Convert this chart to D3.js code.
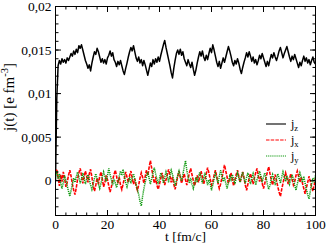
<!DOCTYPE html>
<html><head><meta charset="utf-8">
<script src="https://cdn.jsdelivr.net/npm/d3@7"></script>
<style>html,body{margin:0;padding:0;background:#fff}svg{display:block}</style>
</head><body>
<svg id="c" width="326" height="243"></svg>
<script>
// time axis: t = 0, 0.5, ..., 100 fm/c
const tStep = 0.5;
// currents in units of 1e-3 e fm^-3
const jzMilli = [0,9.5,13.2,13.8,13.4,14.0,13.6,13.9,13.5,14.1,13.8,
14.2,14.6,14.3,14.9,14.5,15.1,14.7,15.5,15.2,15.6,
15.0,14.4,13.8,13.4,12.9,13.3,12.6,13.5,14.2,14.8,
14.5,15.2,14.8,14.2,13.6,14.0,13.5,13.9,13.4,14.1,
14.4,14.9,14.3,14.7,13.9,13.6,13.1,13.7,13.3,13.8,
13.2,12.6,12.2,12.9,13.5,14.2,14.8,15.3,14.9,15.5,
14.8,14.1,13.7,14.2,13.5,13.9,13.2,13.8,13.3,12.7,
12.1,12.8,13.5,13.1,13.9,13.4,14.0,13.6,14.2,13.7,
14.4,15.0,15.6,16.1,15.3,14.6,13.9,13.2,12.4,11.8,
12.9,13.8,14.6,15.0,14.5,15.1,14.4,14.8,14.0,13.6,
13.2,13.9,13.4,13.0,13.6,12.8,12.1,12.7,13.5,14.2,
14.8,14.3,14.9,14.2,13.8,14.4,13.9,14.6,15.2,14.7,
15.6,15.0,14.3,13.6,13.1,13.7,12.9,13.5,14.1,13.6,
14.2,14.8,15.4,14.9,14.3,13.6,13.2,13.8,13.4,14.0,
13.5,12.8,12.3,13.0,13.6,14.1,14.7,14.2,14.8,14.3,
13.7,14.2,13.5,13.9,13.3,13.8,14.4,14.0,14.6,14.1,
13.6,13.1,13.7,13.2,13.9,14.5,14.1,14.7,14.2,13.8,
14.3,14.9,15.3,14.7,14.1,14.6,15.0,15.4,14.8,14.2,
13.7,14.3,13.9,14.5,14.0,13.5,13.0,13.6,13.2,13.8,
14.3,13.7,14.1,13.5,13.9,13.3,13.8,14.2,13.6,13.4];
const jxMilli = [0.9,1.3,0.4,-0.6,0.7,-0.1,1.0,0.3,-0.7,-0.2,0.6,
1.2,0.5,-0.4,-1.1,-1.6,-0.8,0.2,0.9,1.4,0.6,
-0.3,0.4,1.1,0.5,-0.2,0.8,1.3,0.4,-0.6,-1.2,
-0.5,0.3,-0.4,0.5,1.0,0.2,-0.7,-0.2,0.6,0.1,
-0.6,-1.3,-0.7,0.1,0.7,1.2,0.5,-0.3,0.4,-0.5,
-1.0,-0.4,0.3,1.0,0.4,-0.2,0.6,1.1,0.3,-0.4,
0.2,-0.6,-1.1,-0.5,0.3,0.9,0.4,-0.3,0.5,1.2,
0.6,1.5,2.3,1.4,0.5,-0.3,0.4,-0.5,-1.0,-0.4,
0.3,0.9,0.2,-0.5,0.1,0.7,1.3,0.6,-0.2,0.4,
-0.4,-1.0,-0.3,0.5,1.1,0.4,-0.3,0.3,0.8,0.1,
-0.5,0.2,0.9,1.4,0.7,0.0,-0.6,0.1,0.6,-0.2,
0.5,1.1,0.4,-0.4,0.2,0.8,1.5,0.9,0.2,-0.5,
-0.1,0.6,1.2,0.5,-0.3,-0.9,-0.4,0.3,1.0,1.8,
1.1,0.4,-0.3,0.3,0.9,0.2,-0.6,0.1,0.7,1.2,
0.5,-0.2,0.4,1.0,0.3,-0.5,-1.1,-0.4,0.3,0.8,
0.2,-0.4,0.3,0.9,1.4,0.6,-0.1,0.5,-0.3,-0.9,
-0.3,0.4,1.0,1.6,0.8,0.1,-0.5,0.2,0.7,0.0,
-0.7,-1.3,-1.8,-1.0,-0.3,0.4,0.9,0.3,-0.4,0.2,
0.8,0.2,-0.5,-0.1,0.6,1.1,0.5,-0.2,0.4,-0.3,
-0.9,-1.5,-0.8,-0.2,0.5,-0.1,-0.7,-1.2,-0.5,0.3];
const jyMilli = [0.5,1.1,0.2,0.8,-0.3,-0.9,-0.2,0.6,0.1,-0.6,-1.2,
-1.8,-1.1,-0.4,0.3,-0.2,0.5,1.0,0.4,-0.3,0.2,
0.9,0.3,-0.4,0.2,0.7,0.1,-0.5,-1.0,-0.4,0.3,
0.8,0.2,-0.4,-0.9,-0.3,0.4,1.0,0.5,-0.1,0.6,
1.4,0.7,0.1,-0.5,0.2,-0.3,-0.8,-0.2,0.5,1.1,
0.6,1.3,0.5,-0.2,-0.7,-0.1,0.4,-0.3,0.3,0.8,
0.2,-0.4,-1.0,-1.6,-2.4,-2.9,-1.8,-0.9,-0.2,0.5,
1.0,0.3,-0.4,0.2,0.9,1.5,0.8,0.2,-0.4,0.3,
0.9,0.4,-0.3,0.4,1.0,0.5,-0.2,0.6,1.2,0.7,
0.1,-0.6,0.0,0.6,1.1,0.5,0.0,0.7,1.6,2.3,
1.2,0.4,-0.3,0.3,-0.4,-0.9,-0.3,0.4,-0.2,0.5,
1.0,0.3,-0.3,0.4,0.9,0.2,-0.5,0.1,-0.4,-1.1,
-0.5,0.2,0.8,0.3,-0.3,0.5,1.2,0.6,-0.1,0.4,
-0.3,-0.9,-0.2,0.5,0.1,0.7,0.2,-0.4,0.3,0.9,
0.4,-0.2,0.5,1.0,0.3,-0.3,0.4,0.9,0.2,-0.4,
0.3,0.8,0.2,-0.5,0.1,0.6,1.1,0.5,-0.2,0.4,
0.9,0.3,-0.4,-1.0,-0.5,0.2,0.7,0.1,-0.5,0.2,
0.8,0.3,-0.3,0.4,1.0,0.5,-0.1,0.6,0.2,-0.4,
0.1,0.7,0.2,-0.5,-1.1,-0.4,0.3,0.9,0.4,-0.2,
0.5,-0.3,-1.0,-1.6,-2.1,-1.2,-0.4,0.3,-0.2,0.6];

const xTickValues = [0,20,40,60,80,100];
const xTickLabels = ["0","20","40","60","80","100"];
const yTickValues = [0,0.005,0.01,0.015,0.02];
const yTickLabels = ["0","0,005","0,01","0,015","0,02"];
const seriesNames = ["z","x","y"];

const svg = d3.select("#c");
const L = 55.5, R = 315.5, T = 6.5, B = 215.5;
const x = d3.scaleLinear().domain([0,100]).range([L,R]);
const y = d3.scaleLinear().domain([-0.004,0.02]).range([B,T]);

const font = "Liberation Serif, Times New Roman, serif";

function toPts(arr){ return arr.map((v,i)=>[i*tStep, v*1e-3]); }
const line = d3.line().x(d=>x(d[0])).y(d=>y(d[1]));

svg.append("clipPath").attr("id","pc").append("rect")
  .attr("x",L).attr("y",T).attr("width",R-L).attr("height",B-T);
const g = svg.append("g").attr("clip-path","url(#pc)");

g.append("path").datum(toPts(jzMilli)).attr("d",line)
  .attr("fill","none").attr("stroke","#000").attr("stroke-width",1.5)
  .attr("stroke-linejoin","round");
g.append("path").datum(toPts(jxMilli)).attr("d",line)
  .attr("fill","none").attr("stroke","#ff0000").attr("stroke-width",1.6)
  .attr("stroke-dasharray","3.5,1.2");
g.append("path").datum(toPts(jyMilli)).attr("d",line)
  .attr("fill","none").attr("stroke","#109a10").attr("stroke-width",1.5)
  .attr("stroke-dasharray","1.2,0.9");

// frame
svg.append("rect").attr("x",L).attr("y",T).attr("width",R-L).attr("height",B-T)
  .attr("fill","none").attr("stroke","#000").attr("stroke-width",1);

// ticks inward on all sides
const xMinor = d3.range(0,101,4);
const yMinor = d3.range(-4,21,1).map(v=>v*1e-3);
function xt(vals,len){
  vals.forEach(v=>{
    svg.append("line").attr("x1",x(v)).attr("x2",x(v)).attr("y1",B).attr("y2",B-len).attr("stroke","#000");
    svg.append("line").attr("x1",x(v)).attr("x2",x(v)).attr("y1",T).attr("y2",T+len).attr("stroke","#000");
  });
}
function yt(vals,len){
  vals.forEach(v=>{
    svg.append("line").attr("y1",y(v)).attr("y2",y(v)).attr("x1",L).attr("x2",L+len).attr("stroke","#000");
    svg.append("line").attr("y1",y(v)).attr("y2",y(v)).attr("x1",R).attr("x2",R-len).attr("stroke","#000");
  });
}
xt(xMinor,3); xt(xTickValues,5.5);
yt(yMinor,3); yt(yTickValues,5.5);

// tick labels
xTickValues.forEach((v,i)=>{
  svg.append("text").attr("x",x(v)).attr("y",229).attr("text-anchor","middle")
    .attr("font-family",font).attr("font-size",13.5).text(xTickLabels[i]);
});
yTickValues.forEach((v,i)=>{
  svg.append("text").attr("x",L-4).attr("y",y(v)+4.5).attr("text-anchor","end")
    .attr("font-family",font).attr("font-size",13.5).text(yTickLabels[i]);
});

// axis titles
svg.append("text").attr("x",(L+R)/2).attr("y",240.5).attr("text-anchor","middle")
  .attr("font-family",font).attr("font-size",13.5).text("t [fm/c]");
const yl = svg.append("text").attr("transform","translate(14,97) rotate(-90)")
  .attr("text-anchor","middle").attr("font-family",font).attr("font-size",15);
yl.append("tspan").text("j(t) [e fm");
yl.append("tspan").attr("dy",-6).attr("font-size",10.5).text("-3");
yl.append("tspan").attr("dy",6).text("]");

// legend
const legY = [124,140,156];
const legColors = ["#000","#ff0000","#109a10"];
const legDash = [null,"3.5,1.2","1.2,0.9"];
seriesNames.forEach((n,i)=>{
  const ln = svg.append("line").attr("x1",266).attr("x2",286).attr("y1",legY[i]).attr("y2",legY[i])
    .attr("stroke",legColors[i]).attr("stroke-width",1.1);
  if(legDash[i]) ln.attr("stroke-dasharray",legDash[i]);
  const t = svg.append("text").attr("x",291).attr("y",legY[i]+4)
    .attr("font-family",font).attr("font-size",12);
  t.append("tspan").text("j");
  t.append("tspan").attr("dy",3).attr("font-size",8.5).text(n);
});
</script>
</body></html>
